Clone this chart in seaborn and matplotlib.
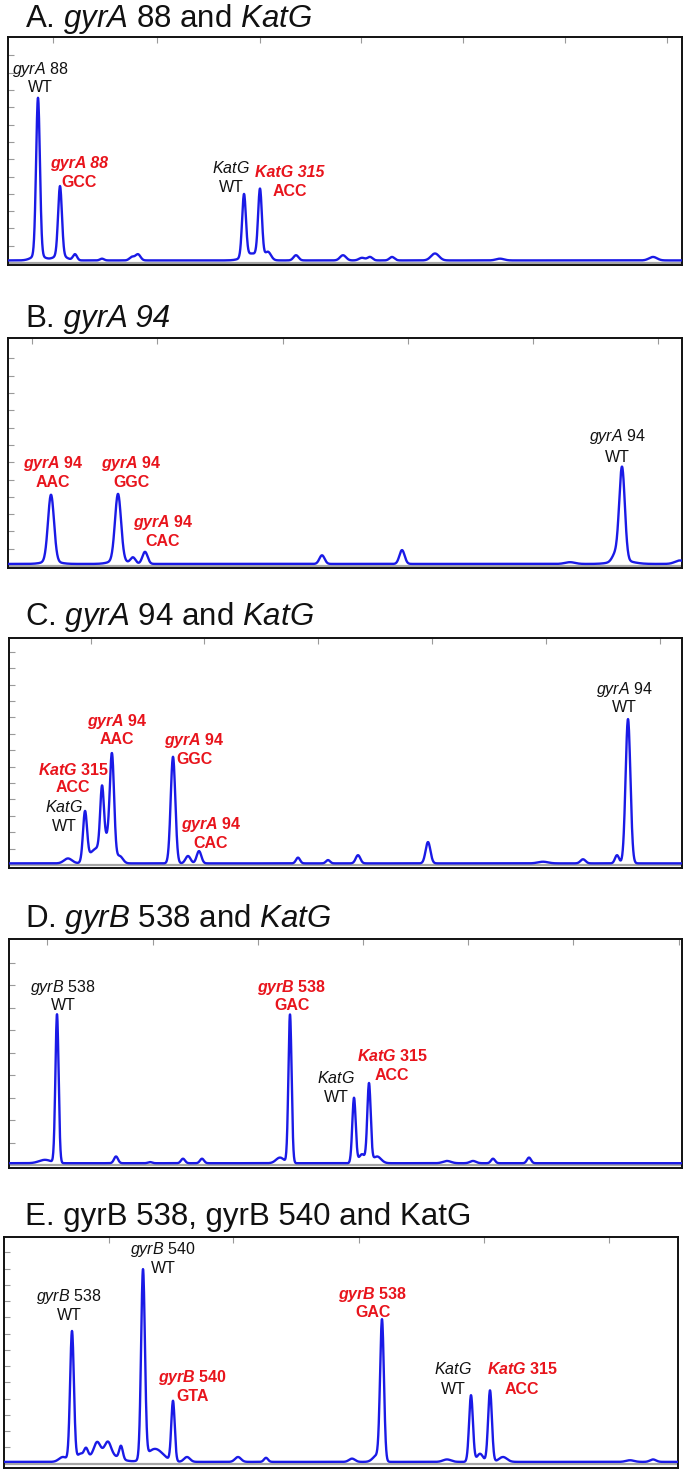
import numpy as np
import pandas as pd
import matplotlib.pyplot as plt
import seaborn as sns

sns.set_theme(style="white")
plt.rcParams["font.family"] = ["Liberation Sans", "DejaVu Sans"]
plt.rcParams["mathtext.fontset"] = "custom"
plt.rcParams["mathtext.rm"] = "Liberation Sans"
plt.rcParams["mathtext.it"] = "Liberation Sans:italic"
plt.rcParams["mathtext.bf"] = "Liberation Sans:bold"
plt.rcParams["mathtext.bfit"] = "Liberation Sans:bold:italic"

W, H = 685, 1471
TRACE = "#1a1ae6"
RED = "#e8141c"

# peak tables: migration position (scan), height (RFU units), width (scan)
POS_A = [38, 38, 60, 60, 75, 102, 132, 138, 244, 252, 260, 268, 296, 343, 362, 370, 392, 435, 500, 653]
HGT_A = [9.1, 0.3, 4.0, 0.3, 0.35, 0.1, 0.2, 0.35, 3.6, 0.4, 3.9, 0.45, 0.3, 0.3, 0.15, 0.2, 0.2, 0.4, 0.1, 0.2]
WID_A = [1.9, 6, 1.9, 6, 2.0, 2.0, 2.5, 2.5, 1.9, 8, 1.9, 3, 2.5, 3, 3, 2.5, 2.5, 4, 4, 4]

POS_B = [51, 51, 118, 118, 133, 145, 322, 402, 570, 615, 622, 622, 680]
HGT_B = [3.85, 0.15, 3.85, 0.2, 0.35, 0.7, 0.5, 0.8, 0.1, 0.4, 5.4, 0.2, 0.2]
WID_B = [3.0, 8, 3.0, 8, 2.5, 2.6, 2.6, 2.6, 5, 3, 2.8, 10, 5]

POS_C = [68, 85, 95, 102, 107, 112, 120, 173, 188, 199, 298, 328, 358, 428, 543, 583, 617, 628]
HGT_C = [0.3, 3.0, 0.8, 3.5, 1.4, 5.85, 0.4, 6.5, 0.45, 0.75, 0.35, 0.2, 0.5, 1.3, 0.1, 0.25, 0.5, 8.8]
WID_C = [4, 2.0, 6, 1.8, 5, 2.1, 3, 2.3, 2.5, 2.3, 2, 2, 2.3, 2.4, 5, 2.5, 2, 2.4]

POS_D = [45, 57, 116, 150, 183, 202, 280, 290, 354, 362, 369, 377, 447, 473, 493, 529]
HGT_D = [0.15, 6.6, 0.3, 0.05, 0.2, 0.2, 0.25, 6.6, 2.9, 0.4, 3.5, 0.3, 0.1, 0.1, 0.2, 0.25]
WID_D = [6, 1.6, 2, 2, 2, 2, 4, 1.6, 1.7, 3, 1.7, 4, 4, 3, 2, 2]

POS_E = [63, 72, 80, 86, 97, 103, 108, 121, 143, 155, 173, 187, 238, 266, 352, 377, 382, 447, 471, 480, 490, 503, 630, 653]
HGT_E = [0.3, 8.0, 0.4, 0.6, 0.7, 0.6, 0.7, 0.8, 11.6, 0.8, 3.7, 0.3, 0.3, 0.25, 0.2, 0.4, 8.6, 0.15, 4.1, 0.5, 4.4, 0.3, 0.1, 0.15]
WID_E = [4, 1.9, 3, 2, 3, 12, 3, 1.8, 1.9, 8, 1.7, 3, 3, 2, 3, 4, 1.9, 4, 1.9, 3, 1.9, 4, 4, 3]

BASE = [0.15, 0.12, 0.1, 0.08, 0.1]

# title: upright head, optional all-italic tail
TITLES = [
    (r"A. $\mathit{gyrA}$ 88 and $\mathit{KatG}$", None),
    ("B.", " gyrA 94"),
    (r"C. $\mathit{gyrA}$ 94 and $\mathit{KatG}$", None),
    (r"D. $\mathit{gyrB}$ 538 and $\mathit{KatG}$", None),
    ("E. gyrB 538, gyrB 540 and KatG", None),
]

# labels: x, y of first line, y of second line, first line, second line, kind
# kind: "wt" black, "mut" red bold, "mutit" red bold with the whole first line italic
LABELS = [
    [(40, 11.16, 10.12, r"$\mathit{gyrA}$ 88", "WT", "wt"),
     (79, 5.78, 4.68, "gyrA 88", "GCC", "mutit"),
     (231, 5.49, 4.39, r"$\mathit{KatG}$", "WT", "wt"),
     (290, 5.26, 4.16, "KatG 315", "ACC", "mutit")],
    [(53, 5.9, 4.8, r"$\mathbfit{gyrA}$ 94", "AAC", "mut"),
     (131, 5.9, 4.8, r"$\mathbfit{gyrA}$ 94", "GGC", "mut"),
     (163, 2.49, 1.39, r"$\mathbfit{gyrA}$ 94", "CAC", "mut"),
     (617, 7.46, 6.3, r"$\mathit{gyrA}$ 94", "WT", "wt")],
    [(64, 3.54, 2.32, r"$\mathit{KatG}$", "WT", "wt"),
     (73, 5.79, 4.7, r"$\mathbfit{KatG}$ 315", "ACC", "mut"),
     (117, 8.78, 7.68, r"$\mathbfit{gyrA}$ 94", "AAC", "mut"),
     (194, 7.62, 6.46, r"$\mathbfit{gyrA}$ 94", "GGC", "mut"),
     (211, 2.5, 1.34, r"$\mathbfit{gyrA}$ 94", "CAC", "mut"),
     (624, 10.73, 9.63, r"$\mathit{gyrA}$ 94", "WT", "wt")],
    [(63, 7.91, 7.07, r"$\mathit{gyrB}$ 538", "WT", "wt"),
     (292, 7.91, 7.07, r"$\mathbfit{gyrB}$ 538", "GAC", "mut"),
     (336, 3.87, 3.02, r"$\mathit{KatG}$", "WT", "wt"),
     (392, 4.84, 4.0, r"$\mathbfit{KatG}$ 315", "ACC", "mut")],
    [(69, 10.25, 9.08, r"$\mathit{gyrB}$ 538", "WT", "wt"),
     (163, 13.2, 12.03, r"$\mathit{gyrB}$ 540", "WT", "wt"),
     (193, 5.32, 4.15, r"$\mathbfit{gyrB}$ 540", "GTA", "mut"),
     (373, 10.43, 9.32, r"$\mathbfit{gyrB}$ 538", "GAC", "mut"),
     (453, 5.82, 4.58, r"$\mathit{KatG}$", "WT", "wt"),
     (522, 5.82, 4.58, r"$\mathbfit{KatG}$ 315", "ACC", "mut")],
]

# panel frame in pixels: left, right, top, bottom, baseline, tick spacing, n ticks
FRAMES = [
    (8, 682, 37, 265, 263, 17.3, 12),
    (8, 682, 338, 568, 566, 17.3, 12),
    (9, 682, 638, 868, 865, 16.4, 13),
    (9, 682, 939, 1168, 1165, 22.5, 9),
    (4, 678, 1237, 1468, 1463.5, 16.25, 13),
]
XTICKS = [
    [53, 157, 260, 361, 463, 565, 667],
    [32, 157, 283, 408, 533, 658],
    [91, 204, 318, 432, 546, 660],
    [47, 153, 258, 363, 468, 573, 679],
    [109, 233, 359, 484, 609],
]
TITLE_Y = [19, 319, 617, 919, 1217]

PEAKS = [(POS_A, HGT_A, WID_A), (POS_B, HGT_B, WID_B), (POS_C, HGT_C, WID_C),
         (POS_D, HGT_D, WID_D), (POS_E, HGT_E, WID_E)]


def build_trace(x, pos, hgt, wid, base):
    y = np.full_like(x, base)
    for p, h, w in zip(pos, hgt, wid):
        y += h * np.exp(-0.5 * ((x - p) / w) ** 2)
    return y


fig = plt.figure(figsize=(W / 100, H / 100), dpi=100)
fig.patch.set_facecolor("white")

for i, (left, right, top, bottom, base_px, step, nt) in enumerate(FRAMES):
    ax = fig.add_axes([left / W, 1 - bottom / H, (right - left) / W, (bottom - top) / H])
    scan = np.arange(left, right + 0.25, 0.25)
    pos, hgt, wid = PEAKS[i]
    df = pd.DataFrame({"scan": scan, "rfu": build_trace(scan, pos, hgt, wid, BASE[i])})

    ax.axhline(0, color="#a6a6a6", lw=1.6, zorder=1)
    sns.lineplot(data=df, x="scan", y="rfu", ax=ax, color=TRACE, lw=1.7,
                 estimator=None, zorder=3)

    ax.set_xlim(left, right)
    ax.set_ylim(-(bottom - base_px) / step, (base_px - top) / step)
    ax.set_xticks(XTICKS[i])
    ax.set_yticks(range(1, nt + 1))
    ax.tick_params(axis="x", top=True, bottom=False, direction="in", length=4,
                   width=0.8, color="#9a9a9a", labeltop=False, labelbottom=False)
    ax.tick_params(axis="y", left=True, direction="in", length=4, width=0.8,
                   color="#9a9a9a", labelleft=False)
    ax.set_xlabel("")
    ax.set_ylabel("")
    for sp in ax.spines.values():
        sp.set_color("#111111")
        sp.set_linewidth(1.4)

    for x, y1, y2, t1, t2, kind in LABELS[i]:
        col = "#111111" if kind == "wt" else RED
        wt = "normal" if kind == "wt" else "bold"
        st = "italic" if kind == "mutit" else "normal"
        ax.text(x, y1, t1, ha="center", va="center", fontsize=11.5, color=col,
                fontweight=wt, fontstyle=st, zorder=4)
        ax.text(x, y2, t2, ha="center", va="center", fontsize=11.5, color=col,
                fontweight=wt, zorder=4)

    head, tail = TITLES[i]
    t = fig.text(25 / W, 1 - TITLE_Y[i] / H, head, ha="left", va="center",
                 fontsize=22.5, color="#111111")
    if tail:
        ax.annotate(tail, xy=(1, 0), xycoords=t, ha="left", va="bottom",
                    fontsize=22.5, fontstyle="italic", color="#111111",
                    annotation_clip=False)

fig.savefig("out.png", dpi=100, facecolor="white")
